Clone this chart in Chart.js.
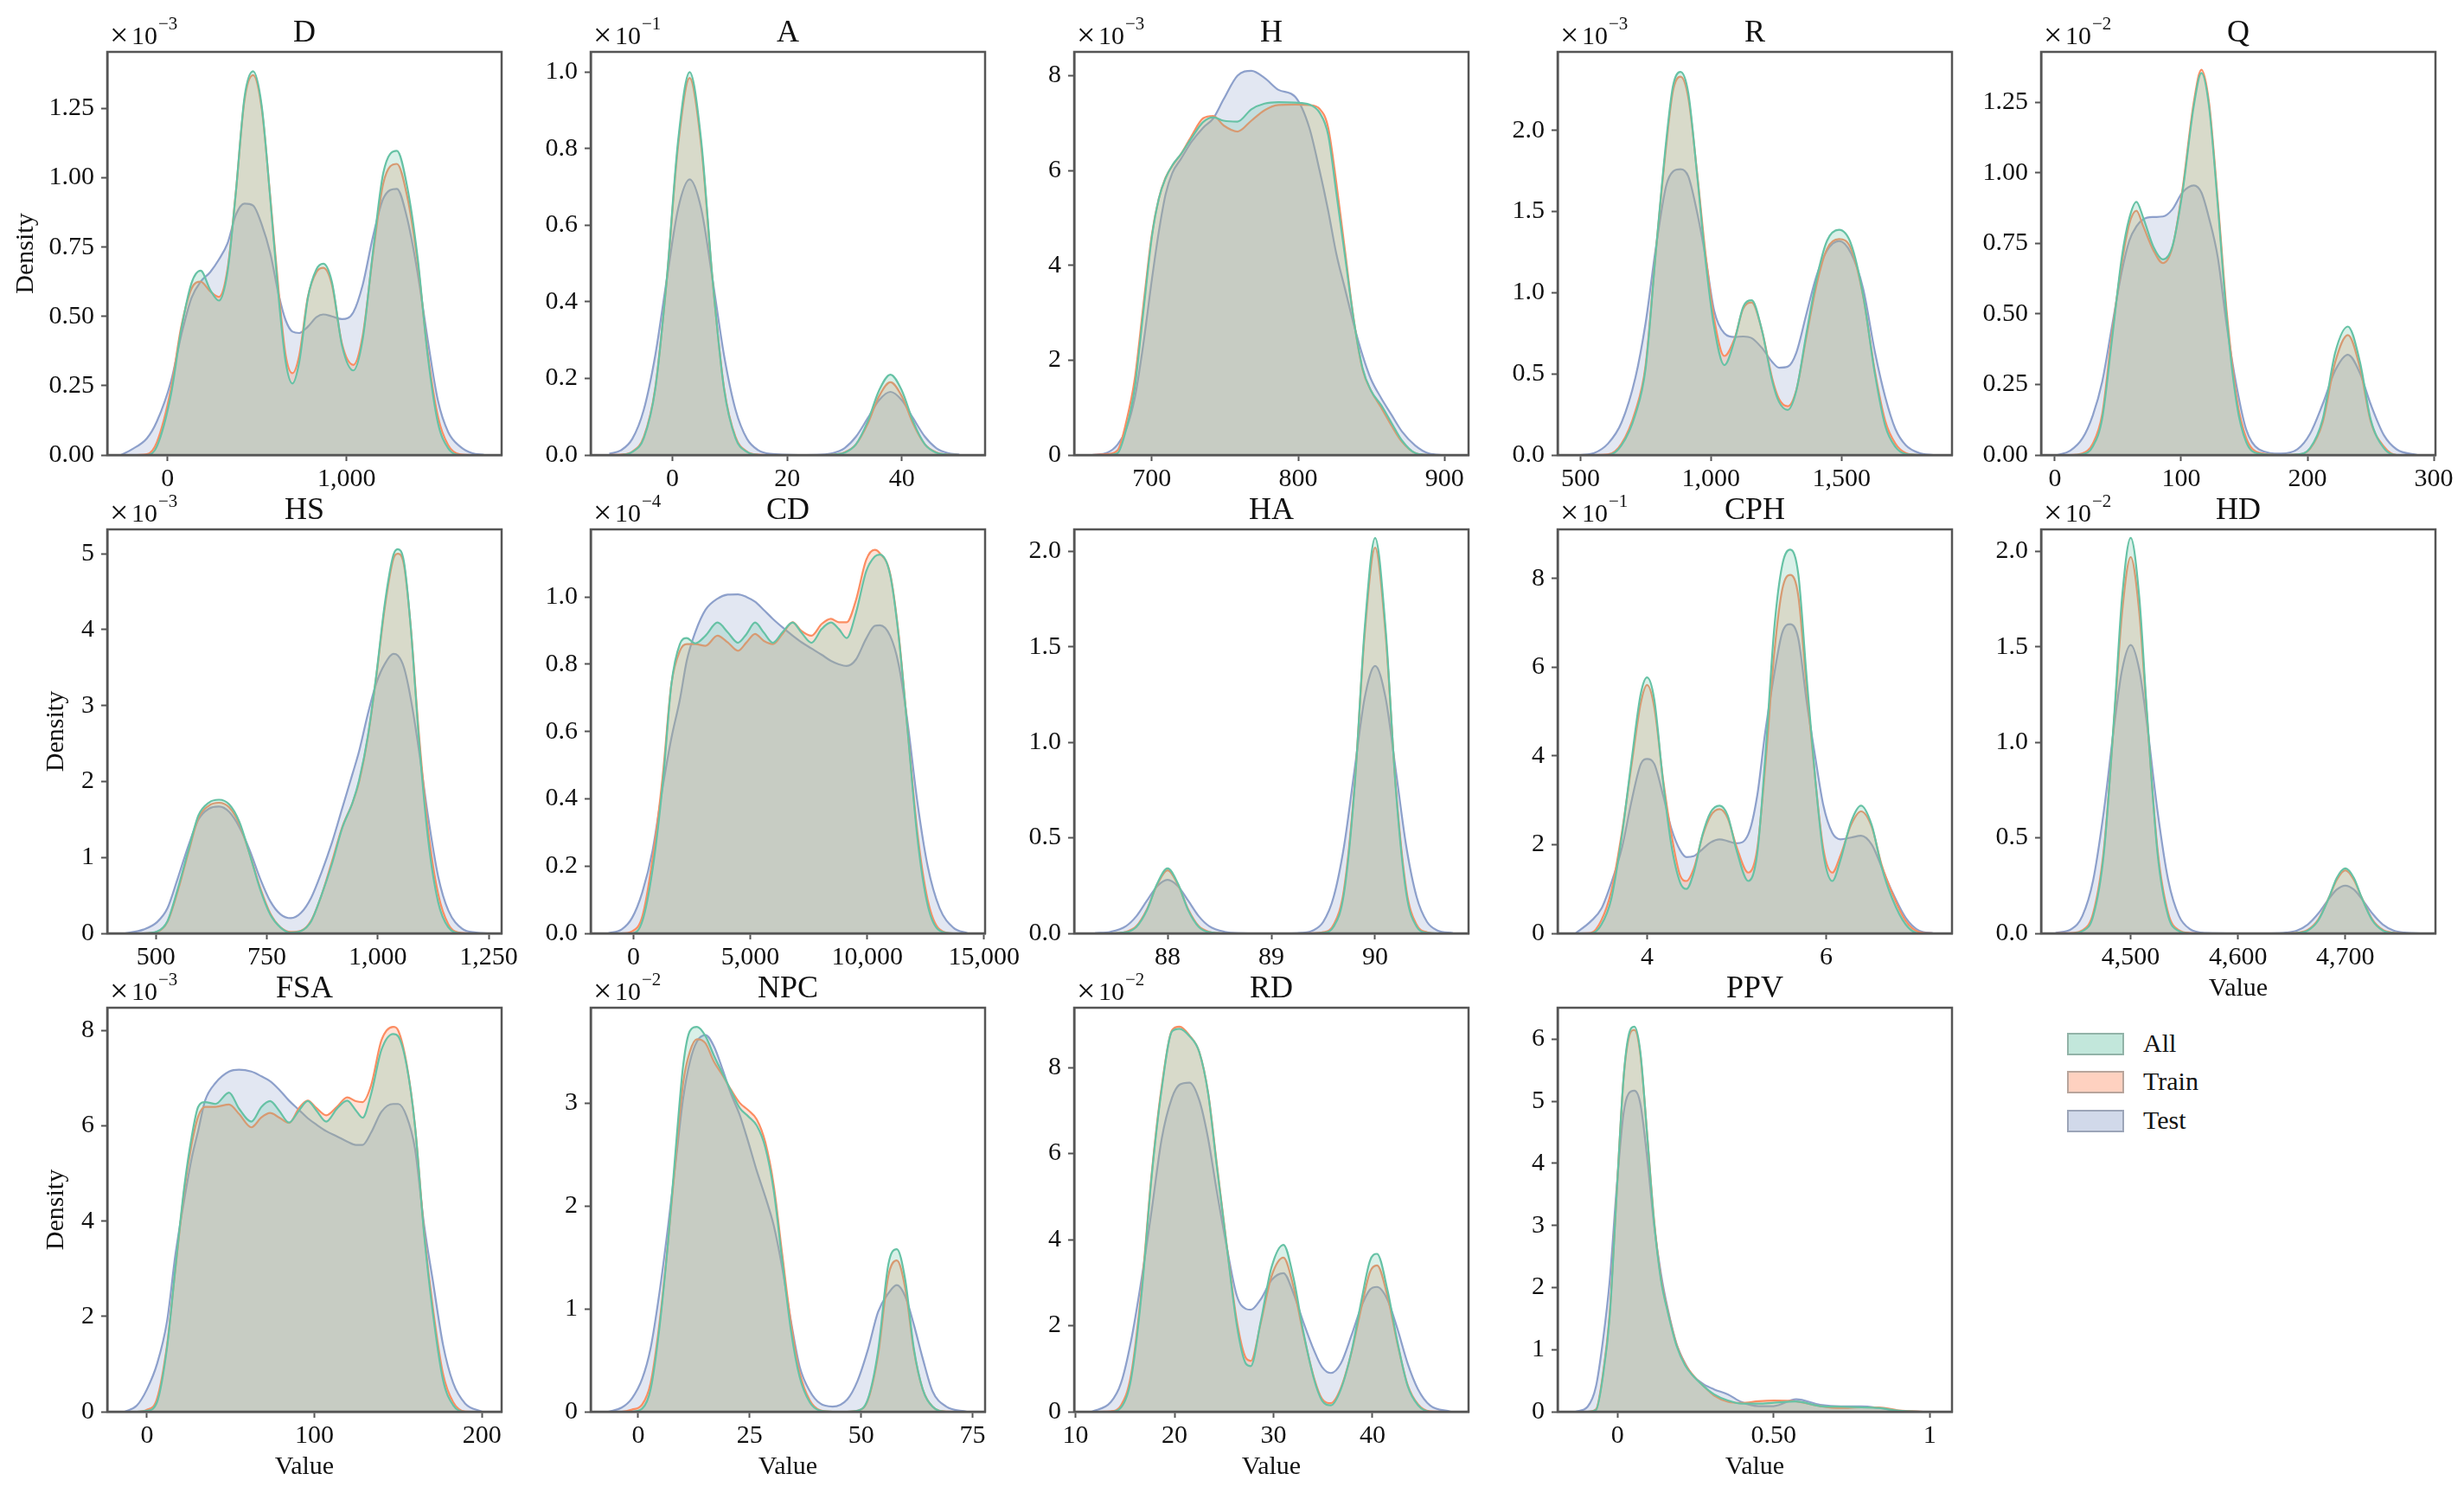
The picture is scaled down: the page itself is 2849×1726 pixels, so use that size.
<!DOCTYPE html>
<html>
<head>
<meta charset="utf-8">
<title>Density</title>
<script src="https://cdn.jsdelivr.net/npm/chart.js@4"></script>
<style>
html,body{margin:0;padding:0;background:#fff;}
body{width:2849px;height:1726px;position:relative;overflow:hidden;font-family:"Liberation Serif",serif;}
canvas{position:absolute;}
.swatch{position:absolute;left:2390px;width:62px;height:22px;border-width:2px;border-style:solid;}
.legtext{position:absolute;left:2478px;font-size:30px;line-height:36px;color:#111;}
</style>
</head>
<body>
<script>
// values, y in the units shown on each axis
const dX=[-260,-200,-115,-60,20,76,134,185,239,287,335,382,430,478,526,574,621,660,698,736,784,832,870,918,975,1038,1090,1147,1205,1281,1338,1396,1453,1510,1568,1635,1700,1770];
const dAll=[0,0,0,.03,.22,.45,.62,.665,.595,.557,.66,.95,1.29,1.384,1.26,.925,.567,.336,.258,.336,.567,.67,.69,.625,.394,.305,.417,.73,1.017,1.097,.97,.717,.36,.117,.024,0,0,0];
const dTrain=[0,0,.003,.045,.24,.46,.6,.625,.59,.57,.67,.95,1.28,1.37,1.25,.93,.59,.36,.295,.36,.57,.66,.675,.615,.4,.325,.43,.72,.98,1.05,.935,.7,.37,.14,.035,.002,0,0];
const dTest=[0,.02,.06,.12,.267,.43,.567,.625,.66,.705,.763,.867,.907,.9,.832,.728,.578,.486,.445,.44,.463,.497,.507,.5,.49,.515,.613,.786,.925,.96,.855,.66,.417,.197,.082,.03,.007,0];

const aX=[-11,-9,-7,-5,-3,-1,1,3,5,7,9,11,13,15,17,22,26,28,30,32,34,36,38,40,42,44,46,48,50];
const aAll=[0,0,.008,.044,.172,.458,.823,1,.823,.458,.172,.044,.008,0,0,0,0,.001,.006,.028,.086,.168,.21,.168,.086,.028,.006,.001,0];
const aTrain=[0,.001,.009,.047,.175,.455,.81,.985,.81,.455,.175,.047,.009,.001,0,0,0,.001,.007,.028,.08,.153,.19,.153,.08,.028,.007,.001,0];
const aTest=[.003,.012,.042,.118,.26,.458,.644,.72,.644,.458,.26,.118,.042,.012,.003,0,.001,.005,.018,.048,.095,.143,.165,.143,.095,.048,.018,.005,.001];

const hX=[659,669.6,676.6,682.5,688.3,694,700,704.7,709.4,714,720,727,735,742,749,758.5,768,777,786.5,798,807.6,814.6,820.5,826,832,838,844,849.7,856.7,863.7,870.8,880,889.5,899];
const hAll=[0,0,.04,.55,1.42,2.97,4.6,5.4,5.84,6.11,6.35,6.68,7.02,7.12,7.05,7.03,7.29,7.41,7.44,7.43,7.39,7.22,6.75,5.54,4.19,2.84,1.83,1.36,1.05,.68,.31,.04,0,0];
const hTrain=[0,.02,.1,.7,1.6,3.1,4.65,5.4,5.85,6.1,6.35,6.72,7.1,7.15,6.95,6.82,7.05,7.27,7.38,7.39,7.38,7.3,6.9,5.75,4.3,2.85,1.8,1.36,1,.62,.28,.04,0,0];
const hTest=[0,.05,.22,.55,1.2,2.3,3.7,4.7,5.5,5.95,6.25,6.6,6.9,7.1,7.5,8,8.1,7.95,7.7,7.55,6.9,6,5.15,4.25,3.5,2.75,2.1,1.6,1.2,.85,.5,.2,.03,0];

const rX=[500,552,605,657,710,749,789,828,854,883,913,946,979,1012,1051,1091,1123,1156,1195,1235,1261,1294,1327,1366,1405,1445,1491,1537,1583,1629,1668,1707,1747,1799,1852];
const rAll=[0,0,0,.06,.25,.53,1.26,1.93,2.27,2.36,2.23,1.74,1.2,.79,.554,.71,.91,.953,.77,.455,.327,.278,.396,.75,1.086,1.32,1.387,1.3,.987,.495,.18,.05,.006,0,0];
const rTrain=[0,0,.003,.07,.27,.55,1.26,1.9,2.24,2.33,2.2,1.75,1.24,.84,.61,.72,.9,.94,.77,.47,.345,.3,.4,.73,1.05,1.27,1.33,1.27,.98,.51,.21,.07,.012,0,0];
const rTest=[0,.012,.07,.2,.475,.81,1.28,1.657,1.746,1.76,1.716,1.5,1.22,.89,.75,.727,.73,.72,.66,.573,.538,.544,.63,.87,1.105,1.26,1.318,1.243,1.027,.63,.357,.16,.06,.012,0];

const qX=[2,12,22,30,37.5,45,53,59,64.6,70,78,85.6,93,101,110,116,122,129,136,144,151.5,161.6,179,192,202,212,222,232,241.5,250,260.5,270.6,287];
const qAll=[0,0,.003,.03,.13,.4,.7,.84,.897,.84,.738,.693,.738,.93,1.237,1.353,1.237,.885,.489,.18,.046,.005,0,.002,.024,.126,.364,.455,.33,.126,.024,0,0];
const qTrain=[0,0,.006,.04,.145,.42,.68,.82,.865,.81,.725,.68,.735,.94,1.25,1.365,1.25,.9,.51,.2,.06,.008,0,.002,.022,.115,.33,.425,.31,.12,.03,0,0];
const qTest=[0,.015,.06,.14,.26,.45,.65,.76,.81,.835,.843,.845,.87,.93,.955,.93,.84,.7,.46,.24,.09,.02,.005,.02,.075,.18,.3,.355,.29,.18,.07,.02,0];

const hsX=[430,472,503,526,549,573,596,619,642,665,688,711,735,758,781,804,827,850,873,897,920,943,958,978,997,1016,1035,1045,1059,1074,1093,1113,1136,1159,1190,1221,1248];
const hsAll=[0,0,.025,.16,.58,1.09,1.555,1.72,1.76,1.7,1.47,1.05,.58,.245,.076,.01,.03,.16,.5,.92,1.39,1.72,2.02,2.61,3.42,4.35,4.98,5.06,4.89,4.05,2.53,1.26,.41,.08,0,0,0];
const hsTrain=[0,0,.02,.15,.55,1.06,1.52,1.68,1.72,1.66,1.44,1.05,.6,.26,.08,.02,.035,.17,.5,.95,1.4,1.72,2,2.6,3.4,4.3,4.93,5,4.85,4.05,2.6,1.38,.52,.12,.005,0,0];
const hsTest=[0,.05,.15,.33,.72,1.15,1.5,1.64,1.67,1.6,1.4,1.1,.72,.42,.25,.2,.27,.47,.8,1.2,1.65,2.1,2.4,2.9,3.3,3.55,3.68,3.66,3.5,3.1,2.4,1.55,.75,.3,.06,.01,0];

const cdX=[-1082,-497,-58,380,819,1257,1623,1988,2281,2646,3085,3596,4035,4474,4839,5205,5570,5965,6374,6813,7178,7617,8056,8450,8787,9123,9518,9956,10322,10541,10980,11345,11711,12149,12588,13099,13684,14298];
const cdAll=[0,0,0,.036,.19,.447,.74,.86,.878,.862,.885,.924,.895,.864,.89,.924,.895,.864,.895,.924,.895,.864,.905,.924,.905,.878,.952,1.076,1.12,1.126,1.067,.885,.618,.284,.084,.008,0,0];
const cdTrain=[0,0,.006,.05,.22,.47,.74,.84,.86,.86,.855,.885,.865,.84,.865,.89,.87,.86,.89,.925,.9,.885,.92,.935,.925,.925,.99,1.11,1.14,1.13,1.07,.89,.62,.3,.1,.012,0,0];
const cdTest=[0,.012,.046,.122,.246,.437,.58,.695,.81,.895,.962,.995,1.007,1.008,1,.986,.962,.935,.91,.885,.866,.847,.828,.81,.8,.795,.814,.876,.914,.916,.885,.8,.637,.39,.2,.075,.017,0];

const haX=[87.3,87.45,87.6,87.7,87.8,87.9,88,88.1,88.2,88.3,88.4,88.55,88.7,88.9,89.1,89.25,89.4,89.5,89.6,89.7,89.8,89.9,90,90.1,90.2,90.3,90.4,90.5,90.6,90.75];
const haAll=[0,0,.006,.034,.12,.26,.34,.26,.12,.034,.006,0,0,0,0,0,0,.003,.035,.21,.75,1.6,2.07,1.6,.75,.21,.035,.003,0,0];
const haTrain=[0,0,.008,.038,.125,.255,.33,.255,.125,.038,.008,0,0,0,0,0,.001,.006,.045,.23,.76,1.57,2.02,1.57,.76,.23,.045,.006,0,0];
const haTest=[.001,.008,.038,.09,.17,.247,.28,.247,.17,.09,.038,.008,.001,0,0,.001,.015,.06,.19,.455,.85,1.235,1.4,1.235,.85,.455,.19,.06,.015,.001];

const cphX=[3.2,3.37,3.49,3.6,3.72,3.83,3.93,4,4.08,4.18,4.27,4.37,4.44,4.52,4.62,4.71,4.81,4.9,5,5.13,5.23,5.32,5.42,5.51,5.6,5.69,5.78,5.88,5.97,6.07,6.16,6.28,6.39,6.51,6.62,6.74,6.89,7.04,7.2];
const cphAll=[0,0,.2,.78,2.23,3.96,5.41,5.77,5.27,3.39,2,1.14,1,1.36,2.23,2.73,2.88,2.66,1.87,1.18,1.79,3.96,6.86,8.3,8.65,8.09,5.84,3.46,1.79,1.18,1.65,2.52,2.88,2.44,1.5,.78,.2,0,0];
const cphTrain=[0,.01,.3,.95,2.3,3.85,5.2,5.6,5.1,3.45,2.25,1.3,1.18,1.45,2.2,2.65,2.8,2.6,1.95,1.37,1.9,3.75,6.3,7.75,8.08,7.6,5.6,3.45,1.9,1.37,1.75,2.45,2.75,2.4,1.55,.9,.28,.03,0];
const cphTest=[0,.27,.56,1.14,1.94,3.02,3.82,3.93,3.82,3.1,2.37,1.87,1.72,1.74,1.9,2.05,2.12,2.08,2.03,2.23,3.1,4.54,5.84,6.78,6.97,6.64,5.27,3.96,2.88,2.26,2.12,2.16,2.2,2,1.5,.93,.35,.06,0];

const hdX=[4430,4445,4455,4465,4475,4485,4492,4500,4508,4515,4525,4535,4545,4555,4570,4600,4630,4645,4655,4665,4675,4685,4692,4700,4708,4715,4725,4735,4745,4755,4770];
const hdAll=[0,0,.012,.09,.42,1.17,1.76,2.07,1.76,1.17,.42,.09,.012,0,0,0,0,0,.002,.015,.07,.19,.29,.34,.29,.19,.07,.015,.002,0,0];
const hdTrain=[0,.002,.016,.105,.44,1.15,1.68,1.97,1.68,1.15,.44,.105,.016,.002,0,0,0,0,.003,.018,.074,.19,.28,.33,.28,.19,.074,.018,.003,0,0];
const hdTest=[.002,.023,.091,.277,.64,1.105,1.38,1.51,1.38,1.105,.64,.277,.091,.023,.002,0,0,.004,.015,.046,.105,.183,.229,.25,.229,.183,.105,.046,.015,.004,0];

const fsaX=[-13.3,-6,0,6,12,17,22.5,26.6,30.6,34.7,40.9,49,55,62.3,68.4,73.5,78.7,84.8,90.9,96,101,107,113.4,119.5,124.6,128.7,133.8,140,147,150,155,160,165.5,170.6,176.7,182.8,190,200];
const fsaAll=[0,0,.02,.2,1.35,3.03,4.78,5.75,6.4,6.5,6.46,6.7,6.36,6.09,6.4,6.52,6.33,6.07,6.33,6.52,6.33,6.09,6.36,6.53,6.33,6.17,6.67,7.6,7.93,7.88,7.27,6,3.7,2.09,.67,.135,0,0];
const fsaTrain=[0,0,.04,.27,1.4,3,4.7,5.6,6.2,6.4,6.4,6.45,6.25,5.97,6.18,6.27,6.18,6.06,6.38,6.53,6.38,6.22,6.4,6.6,6.52,6.5,6.85,7.8,8.08,8,7.3,6,3.75,2.2,.8,.2,.005,0];
const fsaTest=[0,.13,.47,1,1.9,3.3,4.5,5.3,5.9,6.53,6.9,7.14,7.18,7.14,7.04,6.94,6.77,6.53,6.33,6.16,6.03,5.89,5.78,5.67,5.6,5.6,5.86,6.3,6.46,6.46,6.2,5.52,3.9,2.76,1.41,.6,.17,0];

const npcX=[-6.7,-3.7,-1.4,.9,2.8,4.75,6.7,8.6,10.1,11.6,13.2,15.1,17,18.9,20.8,22.8,24.7,26.6,28.5,30.4,32.3,34.3,36.2,38.5,40.8,43.6,46.9,49.2,51.5,53.8,56.1,58,59.9,61.8,63.8,66,69.1,73.7];
const npcAll=[0,0,0,.03,.22,.81,1.65,2.65,3.37,3.7,3.74,3.65,3.46,3.29,3.12,2.95,2.87,2.78,2.57,2.15,1.47,.78,.34,.09,.01,0,0,.01,.12,.59,1.43,1.58,1.28,.62,.22,.05,0,0];
const npcTrain=[0,0,.02,.07,.28,.85,1.65,2.55,3.2,3.5,3.62,3.58,3.4,3.27,3.13,3,2.93,2.84,2.62,2.2,1.53,.85,.38,.11,.015,0,0,.01,.11,.55,1.32,1.47,1.2,.6,.22,.05,.002,0];
const npcTest=[0,.04,.13,.32,.62,1.15,1.8,2.5,3.05,3.4,3.6,3.66,3.55,3.33,3.09,2.88,2.62,2.34,2.09,1.81,1.4,.87,.44,.2,.08,.05,.12,.3,.6,.97,1.15,1.23,1.12,.85,.52,.2,.05,0];

const rdX=[11.65,13.55,14.6,15.6,16.65,17.7,18.7,19.75,20.5,21.5,22.5,23.4,24.25,25.3,26.3,27.2,27.7,28.7,29.8,31,32,33,34.1,34.9,35.8,36.8,37.9,38.9,39.75,40.45,41.5,42.5,43.55,44.6,45.8,47.9];
const rdAll=[0,0,.1,.75,2.7,5.5,7.5,8.84,8.9,8.73,8.36,7.39,5.75,3.8,2,1.12,1.06,2.09,3.36,3.88,3.13,1.87,.75,.26,.15,.52,1.42,2.61,3.51,3.67,2.84,1.64,.6,.15,0,0];
const rdTrain=[0,.01,.15,.85,2.8,5.55,7.55,8.87,8.95,8.75,8.36,7.4,5.8,3.82,2.1,1.25,1.18,2.05,3.15,3.58,2.92,1.82,.78,.3,.2,.55,1.4,2.45,3.25,3.4,2.7,1.6,.62,.17,.01,0];
const rdTest=[0,.22,.67,1.64,3.06,4.7,6.34,7.3,7.6,7.65,7.24,6.34,5.15,3.8,2.69,2.39,2.37,2.61,3.06,3.22,2.76,2.09,1.42,1.04,.9,1.12,1.79,2.46,2.84,2.9,2.61,1.94,1.12,.52,.15,0];

const ppvX=[-.135,-.096,-.069,-.047,-.025,-.003,.019,.035,.054,.073,.095,.117,.139,.161,.189,.216,.243,.276,.309,.353,.397,.452,.5,.572,.649,.715,.781,.836,.901,.978];
const ppvAll=[0,0,.03,.57,1.55,3.5,5.37,6.05,6.2,5.79,4.44,3.05,2.12,1.6,1.06,.75,.57,.41,.28,.18,.13,.13,.145,.165,.09,.08,.07,.06,.015,0];
const ppvTrain=[0,0,.04,.6,1.6,3.5,5.35,6,6.15,5.75,4.45,3.08,2.15,1.62,1.08,.77,.58,.41,.26,.16,.14,.17,.18,.165,.09,.06,.07,.07,.02,0];
const ppvTest=[0,.08,.41,1.14,2.12,3.6,4.8,5.12,5.17,4.96,4.08,3,2.22,1.65,1.09,.78,.57,.44,.36,.28,.155,.09,.09,.2,.11,.085,.085,.06,.01,0];

// tick labels, the tick positions are parsed from these
const dXTicks=['0','1,000'], dYTicks=['0.00','0.25','0.50','0.75','1.00','1.25'];
const aXTicks=['0','20','40'], aYTicks=['0.0','0.2','0.4','0.6','0.8','1.0'];
const hXTicks=['700','800','900'], hYTicks=['0','2','4','6','8'];
const rXTicks=['500','1,000','1,500'], rYTicks=['0.0','0.5','1.0','1.5','2.0'];
const qXTicks=['0','100','200','300'], qYTicks=['0.00','0.25','0.50','0.75','1.00','1.25'];
const hsXTicks=['500','750','1,000','1,250'], hsYTicks=['0','1','2','3','4','5'];
const cdXTicks=['0','5,000','10,000','15,000'], cdYTicks=['0.0','0.2','0.4','0.6','0.8','1.0'];
const haXTicks=['88','89','90'], haYTicks=['0.0','0.5','1.0','1.5','2.0'];
const cphXTicks=['4','6'], cphYTicks=['0','2','4','6','8'];
const hdXTicks=['4,500','4,600','4,700'], hdYTicks=['0.0','0.5','1.0','1.5','2.0'];
const fsaXTicks=['0','100','200'], fsaYTicks=['0','2','4','6','8'];
const npcXTicks=['0','25','50','75'], npcYTicks=['0','1','2','3'];
const rdXTicks=['10','20','30','40'], rdYTicks=['0','2','4','6','8'];
const ppvXTicks=['0','0.50','1'], ppvYTicks=['0','1','2','3','4','5','6'];

const seriesNames=['All','Train','Test'];
const lineColors=['#66c2a5','#fc8d62','#8da0cb'];
const fillColors=['rgba(102,194,165,0.25)','rgba(252,141,98,0.25)','rgba(141,160,203,0.25)'];
const patchColors=['rgba(102,194,165,0.4)','rgba(252,141,98,0.4)','rgba(141,160,203,0.4)'];
const patchEdges=['#92b3a8','#b8a59c','#9ca5b8'];

// layout of the grid in page pixels
const colLeft=[124,683,1242,1801,2360];
const rowTop=[60,612,1165];
const rowH=[466,467,467];
const axesW=456;
const marginL=124, marginR=46, marginT=60, marginB=90;
const inkColor='#111';
const spineColor='#555';
const serif='"Liberation Serif", serif';

const panels=[
  {title:'D',col:0,row:0,xs:dX,all:dAll,train:dTrain,test:dTest,xMin:-336.5,xMax:1866,yMax:1.454,xt:dXTicks,yt:dYTicks,exp:'\u22123',ylabelX:30},
  {title:'A',col:1,row:0,xs:aX,all:aAll,train:aTrain,test:aTest,xMin:-14.25,xMax:54.5,yMax:1.053,xt:aXTicks,yt:aYTicks,exp:'\u22121'},
  {title:'H',col:2,row:0,xs:hX,all:hAll,train:hTrain,test:hTest,xMin:646.9,xMax:916.4,yMax:8.5,xt:hXTicks,yt:hYTicks,exp:'\u22123'},
  {title:'R',col:3,row:0,xs:rX,all:rAll,train:rTrain,test:rTest,xMin:412,xMax:1924,yMax:2.483,xt:rXTicks,yt:rYTicks,exp:'\u22123'},
  {title:'Q',col:4,row:0,xs:qX,all:qAll,train:qTrain,test:qTest,xMin:-10.9,xMax:301.3,yMax:1.428,xt:qXTicks,yt:qYTicks,exp:'\u22122'},
  {title:'HS',col:0,row:1,xs:hsX,all:hsAll,train:hsTrain,test:hsTest,xMin:390.4,xMax:1279,yMax:5.32,xt:hsXTicks,yt:hsYTicks,exp:'\u22123',ylabelX:65},
  {title:'CD',col:1,row:1,xs:cdX,all:cdAll,train:cdTrain,test:cdTest,xMin:-1827,xMax:15044,yMax:1.201,xt:cdXTicks,yt:cdYTicks,exp:'\u22124'},
  {title:'HA',col:2,row:1,xs:haX,all:haAll,train:haTrain,test:haTest,xMin:87.1,xMax:90.9,yMax:2.115,xt:haXTicks,yt:haYTicks},
  {title:'CPH',col:3,row:1,xs:cphX,all:cphAll,train:cphTrain,test:cphTest,xMin:3,xMax:7.407,yMax:9.107,xt:cphXTicks,yt:cphYTicks,exp:'\u22121'},
  {title:'HD',col:4,row:1,xs:hdX,all:hdAll,train:hdTrain,test:hdTest,xMin:4416.5,xMax:4784,yMax:2.115,xt:hdXTicks,yt:hdYTicks,exp:'\u22122',xlabel:true},
  {title:'FSA',col:0,row:2,xs:fsaX,all:fsaAll,train:fsaTrain,test:fsaTest,xMin:-23.7,xMax:211.7,yMax:8.48,xt:fsaXTicks,yt:fsaYTicks,exp:'\u22123',ylabelX:65,xlabel:true},
  {title:'NPC',col:1,row:2,xs:npcX,all:npcAll,train:npcTrain,test:npcTest,xMin:-10.65,xMax:77.8,yMax:3.926,xt:npcXTicks,yt:npcYTicks,exp:'\u22122',xlabel:true},
  {title:'RD',col:2,row:2,xs:rdX,all:rdAll,train:rdTrain,test:rdTest,xMin:9.86,xMax:49.7,yMax:9.39,xt:rdXTicks,yt:rdYTicks,exp:'\u22122',xlabel:true},
  {title:'PPV',col:3,row:2,xs:ppvX,all:ppvAll,train:ppvTrain,test:ppvTest,xMin:-.192,xMax:1.071,yMax:6.506,xt:ppvXTicks,yt:ppvYTicks,xlabel:true}
];

// top and right spines, and the x10^n offset text matplotlib puts over the axis
const framePlugin={
  id:'frame',
  afterDraw(chart,args,opts){
    const a=chart.chartArea, ctx=chart.ctx;
    ctx.save();
    ctx.strokeStyle=spineColor;
    ctx.lineWidth=2.5;
    ctx.strokeRect(a.left,a.top,a.right-a.left,a.bottom-a.top);
    if(opts.exp){
      ctx.fillStyle=inkColor;
      ctx.textBaseline='alphabetic';
      ctx.textAlign='left';
      ctx.font='38px '+serif;
      ctx.fillText('\u00d7',a.left+3,a.top-7);
      ctx.font='30px '+serif;
      ctx.fillText('10',a.left+28,a.top-9);
      ctx.font='21px '+serif;
      ctx.fillText(opts.exp,a.left+59,a.top-26);
    }
    ctx.restore();
  }
};

function tickValue(label){
  return Number(label.replace(/,/g,''));
}

function makeDataset(i,xs,ys){
  return {
    label:seriesNames[i],
    data:xs.map(function(x,k){ return {x:x,y:ys[k]}; }),
    borderColor:lineColors[i],
    backgroundColor:fillColors[i],
    borderWidth:2.2,
    pointRadius:0,
    fill:'origin',
    cubicInterpolationMode:'monotone'
  };
}

function makeAxis(labels,extra){
  return Object.assign({
    type:'linear',
    afterBuildTicks:function(scale){
      scale.ticks=labels.map(function(l){ return {value:tickValue(l)}; });
    },
    grid:{display:true,drawOnChartArea:false,drawTicks:true,tickLength:7,tickColor:spineColor,tickWidth:2},
    border:{display:true,color:spineColor,width:2.5},
    ticks:{
      autoSkip:false,maxRotation:0,minRotation:0,color:inkColor,
      font:{family:serif,size:30},
      callback:function(v,i){ return labels[i]; }
    }
  },extra);
}

function drawPanel(p){
  const h=rowH[p.row];
  const canvas=document.createElement('canvas');
  canvas.width=marginL+axesW+marginR;
  canvas.height=marginT+h+marginB;
  canvas.style.left=(colLeft[p.col]-marginL)+'px';
  canvas.style.top=(rowTop[p.row]-marginT)+'px';
  document.body.appendChild(canvas);

  const xAxis=makeAxis(p.xt,{
    min:p.xMin,max:p.xMax,
    afterFit:function(s){ s.height=marginB; },
    title:{display:!!p.xlabel,text:'Value',color:inkColor,font:{family:serif,size:30},padding:{top:0,bottom:8}}
  });
  xAxis.ticks.padding=3;
  const yAxis=makeAxis(p.yt,{
    min:0,max:p.yMax,
    afterFit:function(s){ s.width=marginL; },
    title:{display:!!p.ylabelX,text:'Density',color:inkColor,font:{family:serif,size:30},padding:{top:(p.ylabelX||18)-18,bottom:0}}
  });
  yAxis.ticks.padding=8;

  new Chart(canvas,{
    type:'line',
    data:{datasets:[makeDataset(0,p.xs,p.all),makeDataset(1,p.xs,p.train),makeDataset(2,p.xs,p.test)]},
    plugins:[framePlugin],
    options:{
      responsive:false,
      animation:false,
      devicePixelRatio:1,
      layout:{autoPadding:false,padding:{left:0,top:0,right:marginR,bottom:0}},
      scales:{x:xAxis,y:yAxis},
      plugins:{
        legend:{display:false},
        tooltip:{enabled:false},
        frame:{exp:p.exp},
        title:{display:true,text:p.title,fullSize:false,color:inkColor,font:{family:serif,size:36,weight:'normal'},padding:{top:16.8,bottom:0}}
      }
    }
  });
}

function drawLegend(){
  const tops=[1194,1238,1283];
  seriesNames.forEach(function(name,i){
    const s=document.createElement('div');
    s.className='swatch';
    s.style.top=tops[i]+'px';
    s.style.background=patchColors[i];
    s.style.borderColor=patchEdges[i];
    document.body.appendChild(s);
    const t=document.createElement('div');
    t.className='legtext';
    t.style.top=(tops[i]-6)+'px';
    t.textContent=name;
    document.body.appendChild(t);
  });
}

panels.forEach(drawPanel);
drawLegend();
</script>
</body>
</html>
